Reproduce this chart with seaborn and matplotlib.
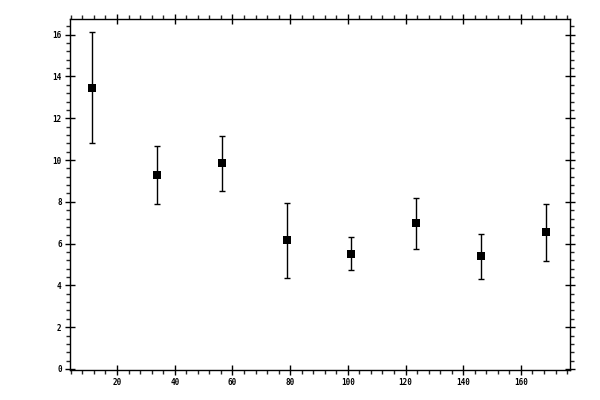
import matplotlib
matplotlib.use("Agg")
import matplotlib.pyplot as plt
import seaborn as sns
import numpy as np
import pandas as pd
from matplotlib.ticker import MultipleLocator

x_vals = [11.25, 33.75, 56.25, 78.75, 101.25, 123.75, 146.25, 168.75]
y_vals = [13.45, 9.29, 9.86, 6.18, 5.51, 6.99, 5.41, 6.56]
y_low = [10.82, 7.90, 8.52, 4.36, 4.74, 5.74, 4.31, 5.17]
y_high = [16.11, 10.67, 11.15, 7.95, 6.30, 8.19, 6.46, 7.90]
x_ticks = [20, 40, 60, 80, 100, 120, 140, 160]
y_ticks = [0, 2, 4, 6, 8, 10, 12, 14, 16]

df = pd.DataFrame({"x": x_vals, "y": y_vals, "lo": y_low, "hi": y_high})

sns.set_style("ticks")
plt.rcParams['font.family'] = ['DejaVu Sans Mono', 'DejaVu Sans']

fig = plt.figure(figsize=(6, 4), dpi=100)
ax = fig.add_axes([70/600, 1 - 370/400, 500/600, 351/400])

yerr = np.vstack([df["y"] - df["lo"], df["hi"] - df["y"]])
ax.errorbar(df["x"], df["y"], yerr=yerr, fmt="none", ecolor="black",
            elinewidth=1.0, capsize=2.3, capthick=1.0, zorder=2)
sns.scatterplot(data=df, x="x", y="y", marker="s", s=30, color="black",
                edgecolor="black", linewidth=0, ax=ax, zorder=3)

ax.set_xlim(3.7, 177)
ax.set_ylim(-0.05, 16.75)
ax.set_xticks(x_ticks)
ax.set_yticks(y_ticks)
ax.xaxis.set_minor_locator(MultipleLocator(4))
ax.yaxis.set_minor_locator(MultipleLocator(0.4))
ax.set_xlabel("")
ax.set_ylabel("")

for s in ax.spines.values():
    s.set_visible(True)
    s.set_linewidth(1.0)
    s.set_color("black")

ax.tick_params(which="major", direction="inout", length=7, width=1.0,
               top=True, right=True, labelsize=5.5, colors="black", pad=2.5)
ax.tick_params(which="minor", direction="out", length=3, width=1.0,
               top=True, right=True)
for lab in ax.get_xticklabels() + ax.get_yticklabels():
    lab.set_fontweight("bold")

fig.savefig("out.png", dpi=100)
